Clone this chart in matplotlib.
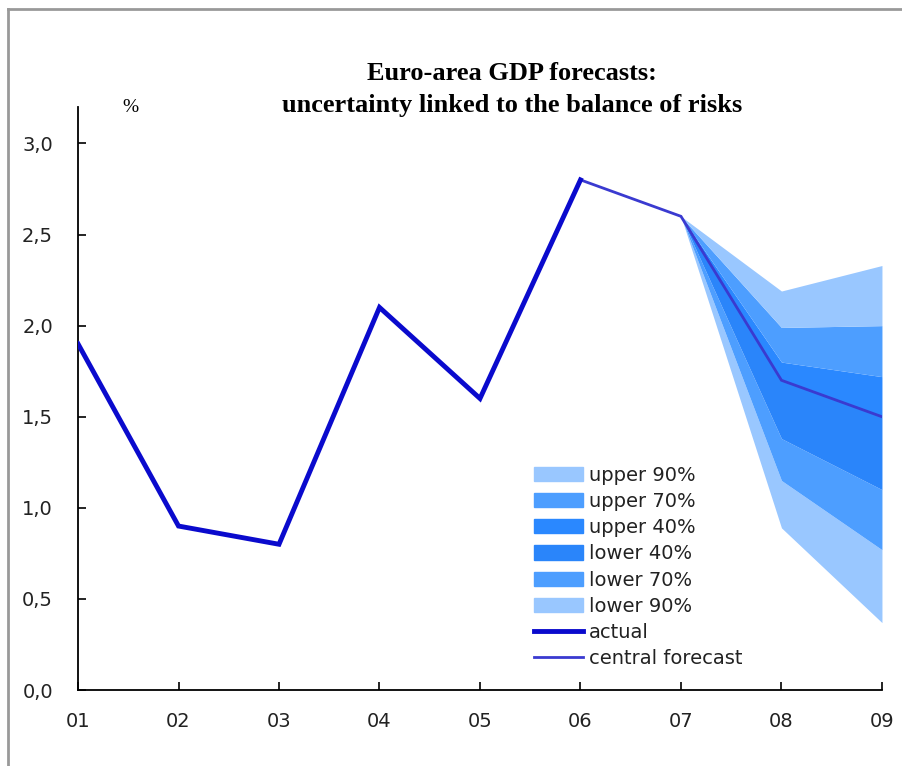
import numpy as np
import matplotlib
matplotlib.use("Agg")
import matplotlib.pyplot as plt
from matplotlib.patches import Patch
from matplotlib.lines import Line2D

years = ["01", "02", "03", "04", "05", "06", "07", "08", "09"]
actual = [1.9, 0.9, 0.8, 2.1, 1.6, 2.8, np.nan, np.nan, np.nan]
central = [np.nan, np.nan, np.nan, np.nan, np.nan, 2.8, 2.6, 1.70, 1.50]
fc_years = ["07", "08", "09"]
central_fc = [2.6, 1.70, 1.50]
upper90 = [2.6, 2.19, 2.33]
upper70 = [2.6, 1.99, 2.00]
upper40 = [2.6, 1.80, 1.72]
lower40 = [2.6, 1.38, 1.10]
lower70 = [2.6, 1.15, 0.77]
lower90 = [2.6, 0.89, 0.37]
yticks = [0.0, 0.5, 1.0, 1.5, 2.0, 2.5, 3.0]

c90 = "#99C7FF"
c70 = "#4D9EFF"
c40 = "#2A88FF"
c40l = "#2A85FA"
c_act = "#0A0ACD"
c_cen = "#3A3AD0"

tick_font = ["DejaVu Sans"]

fig = plt.figure(figsize=(9.03, 7.66), dpi=100)
ax = fig.add_axes([0.0864, 0.0992, 0.8903, 0.7611])

x = np.arange(len(years))
xf = np.array([years.index(y) for y in fc_years])

ax.fill_between(xf, lower90, lower70, color=c90, lw=0)
ax.fill_between(xf, lower70, lower40, color=c70, lw=0)
ax.fill_between(xf, lower40, central_fc, color=c40l, lw=0)
ax.fill_between(xf, central_fc, upper40, color=c40, lw=0)
ax.fill_between(xf, upper40, upper70, color=c70, lw=0)
ax.fill_between(xf, upper70, upper90, color=c90, lw=0)

ax.plot(x, central, color=c_cen, lw=2.0, solid_joinstyle="miter", zorder=4)
ax.plot(x, actual, color=c_act, lw=3.5, solid_joinstyle="miter", zorder=5)

ax.set_xlim(0, len(years) - 1)
ax.set_ylim(0, 3.2)
ax.set_xticks(x)
ax.set_xticklabels(years)
ax.set_yticks(yticks)
ax.set_yticklabels([f"{v:.1f}".replace(".", ",") for v in yticks])
for lab in ax.get_xticklabels() + ax.get_yticklabels():
    lab.set_family(tick_font)
    lab.set_fontsize(14)
    lab.set_color("#222222")

ax.spines["top"].set_visible(False)
ax.spines["right"].set_visible(False)
ax.spines["left"].set_linewidth(1.3)
ax.spines["bottom"].set_linewidth(1.3)
ax.tick_params(axis="y", direction="in", length=6, width=1.2, pad=18)
ax.tick_params(axis="x", direction="in", length=6, width=1.2, pad=16)

fig.text(0.567, 0.904, "Euro-area GDP forecasts:", ha="center", va="center",
         family="Liberation Serif", weight="bold", fontsize=19)
fig.text(0.567, 0.862, "uncertainty linked to the balance of risks", ha="center",
         va="center", family="Liberation Serif", weight="bold", fontsize=19)
fig.text(0.144, 0.860, "%", ha="center", va="center", family="Liberation Serif",
         fontsize=14)

handles = [
    Patch(color=c90, label="upper 90%"),
    Patch(color=c70, label="upper 70%"),
    Patch(color=c40, label="upper 40%"),
    Patch(color=c40l, label="lower 40%"),
    Patch(color=c70, label="lower 70%"),
    Patch(color=c90, label="lower 90%"),
    Line2D([], [], color=c_act, lw=3.5, label="actual"),
    Line2D([], [], color=c_cen, lw=2.0, label="central forecast"),
]
leg = ax.legend(handles=handles, loc="upper left", bbox_to_anchor=(0.558, 0.398),
                frameon=False, fontsize=14, handlelength=2.5, handleheight=0.75,
                handletextpad=0.3, labelspacing=0.37, borderaxespad=0)
for t in leg.get_texts():
    t.set_color("#222222")

# outer frame lines (top and left)
fig.add_artist(Line2D([8 / 903, 1.0], [1 - 9 / 766, 1 - 9 / 766], transform=fig.transFigure,
                      color="#999999", lw=2))
fig.add_artist(Line2D([8 / 903, 8 / 903], [0, 1 - 9 / 766], transform=fig.transFigure,
                      color="#999999", lw=2))

fig.savefig("out.png", dpi=100)
